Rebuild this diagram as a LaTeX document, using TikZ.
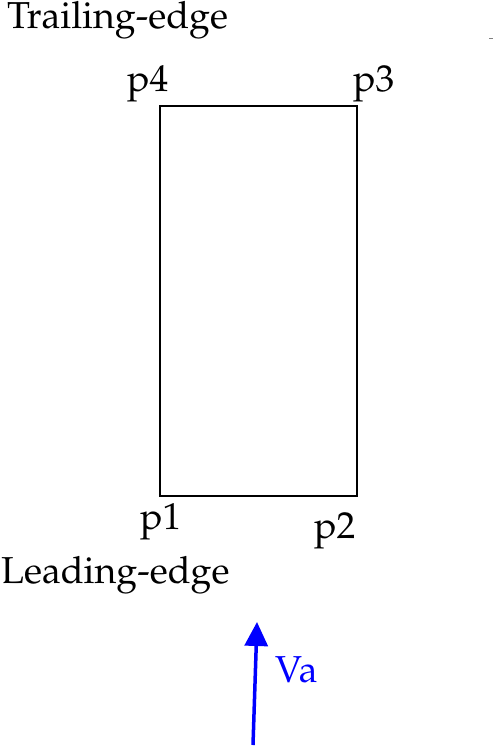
\documentclass[tikz,border=0pt]{standalone}
\usepackage[T1]{fontenc}
\renewcommand{\rmdefault}{ppl}
\usetikzlibrary{arrows.meta}
\begin{document}
\begin{tikzpicture}[x=1pt,y=-1pt,
  lbl/.style={inner sep=0pt, anchor=base west, font=\fontsize{37.5}{42}\selectfont},
  boxst/.style={draw, line width=2pt, inner sep=0pt, minimum width=197pt, minimum height=390pt},
  vel/.style={draw=blue, line width=3.5pt, -{Triangle[length=24pt,width=23pt]}}]
\useasboundingbox (0,0) rectangle (494,747);
\node[boxst] (box) at (258.5,301) {};
\node[lbl] (te) at (7,28) {Trailing-edge};
\node[lbl] (le) at (1,583) {Leading-edge};
\node[lbl] (p4) at (127,91) {p4};
\node[lbl] (p3) at (353,91) {p3};
\node[lbl] (p1) at (140,529) {p1};
\node[lbl] (p2) at (314,538) {p2};
\node[lbl, text=blue] (va) at (275,682) {Va};
\coordinate (vs) at (253,745);
\coordinate (ve) at (257,622);
\draw[vel] (vs) -- (ve);
\coordinate (d1) at (489,38);
\coordinate (d2) at (493,38);
\draw[line width=0.8pt, gray] (d1) -- (d2);
\end{tikzpicture}
\end{document}
